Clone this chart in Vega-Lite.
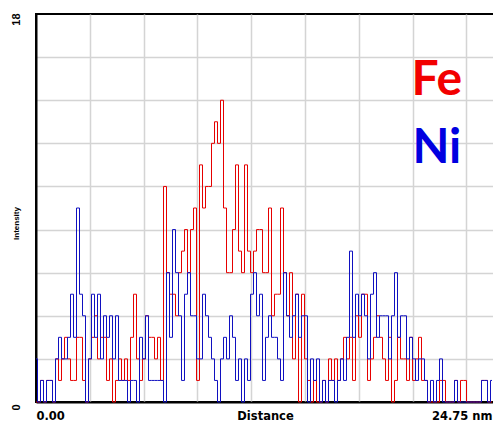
{
"$schema": "https://vega.github.io/schema/vega-lite/v6.json",
"width": 460, "height": 388,
"autosize": {"type": "none"},
"padding": {"left": 36, "top": 14, "right": 0, "bottom": 20},
"background": "white",
"config": {"view": {"stroke": "#000", "strokeWidth": 2}},
"layer": [
{
"data": {"values": [
{"i":0,"Fe":0,"Ni":2},{"i":1,"Fe":0,"Ni":0},{"i":2,"Fe":1,"Ni":1},{"i":3,"Fe":0,"Ni":0},{"i":4,"Fe":1,"Ni":1},{"i":5,"Fe":1,"Ni":1},{"i":6,"Fe":0,"Ni":0},{"i":7,"Fe":2,"Ni":2},{"i":8,"Fe":1,"Ni":3},{"i":9,"Fe":2,"Ni":2},
{"i":10,"Fe":3,"Ni":2},{"i":11,"Fe":2,"Ni":3},{"i":12,"Fe":1,"Ni":5},{"i":13,"Fe":1,"Ni":3},{"i":14,"Fe":3,"Ni":9},{"i":15,"Fe":3,"Ni":5},{"i":16,"Fe":1,"Ni":4},{"i":17,"Fe":0,"Ni":0},{"i":18,"Fe":2,"Ni":2},{"i":19,"Fe":3,"Ni":5},
{"i":20,"Fe":4,"Ni":3},{"i":21,"Fe":2,"Ni":5},{"i":22,"Fe":3,"Ni":2},{"i":23,"Fe":3,"Ni":4},{"i":24,"Fe":1,"Ni":3},{"i":25,"Fe":2,"Ni":4},{"i":26,"Fe":0,"Ni":2},{"i":27,"Fe":1,"Ni":4},{"i":28,"Fe":2,"Ni":1},{"i":29,"Fe":1,"Ni":1},
{"i":30,"Fe":2,"Ni":1},{"i":31,"Fe":1,"Ni":0},{"i":32,"Fe":3,"Ni":1},{"i":33,"Fe":5,"Ni":1},{"i":34,"Fe":2,"Ni":0},{"i":35,"Fe":1,"Ni":3},{"i":36,"Fe":2,"Ni":2},{"i":37,"Fe":4,"Ni":4},{"i":38,"Fe":3,"Ni":1},{"i":39,"Fe":3,"Ni":1},
{"i":40,"Fe":2,"Ni":1},{"i":41,"Fe":3,"Ni":1},{"i":42,"Fe":1,"Ni":1},{"i":43,"Fe":10,"Ni":0},{"i":44,"Fe":6,"Ni":6},{"i":45,"Fe":5,"Ni":3},{"i":46,"Fe":5,"Ni":8},{"i":47,"Fe":4,"Ni":6},{"i":48,"Fe":6,"Ni":4},{"i":49,"Fe":7,"Ni":1},
{"i":50,"Fe":8,"Ni":5},{"i":51,"Fe":6,"Ni":6},{"i":52,"Fe":8,"Ni":4},{"i":53,"Fe":9,"Ni":4},{"i":54,"Fe":1,"Ni":2},{"i":55,"Fe":11,"Ni":2},{"i":56,"Fe":9,"Ni":5},{"i":57,"Fe":10,"Ni":4},{"i":58,"Fe":10,"Ni":3},{"i":59,"Fe":12,"Ni":2},
{"i":60,"Fe":13,"Ni":1},{"i":61,"Fe":12,"Ni":0},{"i":62,"Fe":14,"Ni":2},{"i":63,"Fe":9,"Ni":3},{"i":64,"Fe":6,"Ni":2},{"i":65,"Fe":6,"Ni":4},{"i":66,"Fe":8,"Ni":3},{"i":67,"Fe":11,"Ni":1},{"i":68,"Fe":7,"Ni":2},{"i":69,"Fe":6,"Ni":0},
{"i":70,"Fe":11,"Ni":2},{"i":71,"Fe":7,"Ni":1},{"i":72,"Fe":6,"Ni":5},{"i":73,"Fe":7,"Ni":6},{"i":74,"Fe":8,"Ni":4},{"i":75,"Fe":8,"Ni":5},{"i":76,"Fe":6,"Ni":1},{"i":77,"Fe":6,"Ni":3},{"i":78,"Fe":9,"Ni":4},{"i":79,"Fe":4,"Ni":3},
{"i":80,"Fe":5,"Ni":3},{"i":81,"Fe":5,"Ni":2},{"i":82,"Fe":9,"Ni":1},{"i":83,"Fe":6,"Ni":6},{"i":84,"Fe":4,"Ni":4},{"i":85,"Fe":6,"Ni":3},{"i":86,"Fe":2,"Ni":4},{"i":87,"Fe":5,"Ni":5},{"i":88,"Fe":0,"Ni":3},{"i":89,"Fe":5,"Ni":4},
{"i":90,"Fe":2,"Ni":4},{"i":91,"Fe":1,"Ni":0},{"i":92,"Fe":0,"Ni":2},{"i":93,"Fe":1,"Ni":1},{"i":94,"Fe":0,"Ni":2},{"i":95,"Fe":0,"Ni":0},{"i":96,"Fe":1,"Ni":1},{"i":97,"Fe":0,"Ni":0},{"i":98,"Fe":2,"Ni":1},{"i":99,"Fe":1,"Ni":1},
{"i":100,"Fe":2,"Ni":0},{"i":101,"Fe":1,"Ni":1},{"i":102,"Fe":2,"Ni":2},{"i":103,"Fe":3,"Ni":1},{"i":104,"Fe":2,"Ni":3},{"i":105,"Fe":3,"Ni":7},{"i":106,"Fe":1,"Ni":3},{"i":107,"Fe":4,"Ni":5},{"i":108,"Fe":3,"Ni":4},{"i":109,"Fe":5,"Ni":5},
{"i":110,"Fe":5,"Ni":4},{"i":111,"Fe":1,"Ni":2},{"i":112,"Fe":2,"Ni":5},{"i":113,"Fe":3,"Ni":6},{"i":114,"Fe":4,"Ni":3},{"i":115,"Fe":3,"Ni":4},{"i":116,"Fe":2,"Ni":4},{"i":117,"Fe":1,"Ni":4},{"i":118,"Fe":3,"Ni":2},{"i":119,"Fe":0,"Ni":4},
{"i":120,"Fe":1,"Ni":6},{"i":121,"Fe":3,"Ni":3},{"i":122,"Fe":2,"Ni":4},{"i":123,"Fe":2,"Ni":4},{"i":124,"Fe":1,"Ni":2},{"i":125,"Fe":3,"Ni":3},{"i":126,"Fe":1,"Ni":2},{"i":127,"Fe":2,"Ni":1},{"i":128,"Fe":3,"Ni":2},{"i":129,"Fe":1,"Ni":2},
{"i":130,"Fe":1,"Ni":1},{"i":131,"Fe":0,"Ni":0},{"i":132,"Fe":0,"Ni":1},{"i":133,"Fe":0,"Ni":0},{"i":134,"Fe":0,"Ni":1},{"i":135,"Fe":1,"Ni":2},{"i":136,"Fe":1,"Ni":0},{"i":137,"Fe":0,"Ni":0},{"i":138,"Fe":0,"Ni":0},{"i":139,"Fe":0,"Ni":0},
{"i":140,"Fe":1,"Ni":1},{"i":141,"Fe":0,"Ni":0},{"i":142,"Fe":1,"Ni":0},{"i":143,"Fe":1,"Ni":0},{"i":144,"Fe":0,"Ni":0},{"i":145,"Fe":0,"Ni":0},{"i":146,"Fe":0,"Ni":0},{"i":147,"Fe":0,"Ni":0},{"i":148,"Fe":0,"Ni":0},{"i":149,"Fe":1,"Ni":1},
{"i":150,"Fe":1,"Ni":1},{"i":151,"Fe":0,"Ni":0},{"i":152,"Fe":0,"Ni":1}
]},
"transform": [{"fold": ["Fe", "Ni"], "as": ["element", "intensity"]}],
"mark": {"type": "line", "interpolate": "step", "strokeWidth": 1},
"encoding": {
"x": {"field": "i", "type": "quantitative",
"scale": {"domain": [0, 153.33], "nice": false, "zero": false},
"axis": {
"values": [0, 17.93, 35.87, 53.8, 71.73, 89.67, 107.6, 125.53, 143.47, 152],
"labelExpr": "datum.value == 0 ? '0.00' : (datum.value == 152 ? '24.75 nm' : '')",
"labelAlign": {"condition": {"test": "datum.value == 0", "value": "left"}, "value": "right"},
"labelFlush": false, "labelOverlap": false, "labelBound": false,
"labelBaseline": "top", "labelPadding": 8,
"labelFont": "DejaVu Sans", "labelFontWeight": "bold", "labelFontSize": 11.5, "labelColor": "#000",
"grid": true, "gridWidth": 1.5,
"gridColor": {"condition": {"test": "datum.value == 152 || datum.value == 0", "value": "transparent"}, "value": "#d4d4d4"},
"ticks": false, "tickSize": 0,
"domain": true, "domainColor": "#000", "domainWidth": 2,
"title": "Distance", "titleFont": "DejaVu Sans", "titleFontWeight": "bold", "titleFontSize": 11.5, "titleColor": "#000",
"titleX": 229, "titleY": 8, "titleAlign": "center", "titleBaseline": "top"
}},
"y": {"field": "intensity", "type": "quantitative",
"scale": {"domain": [0, 18], "nice": false},
"axis": {
"values": [0, 2, 4, 6, 8, 10, 12, 14, 16, 18],
"labelExpr": "datum.value == 0 || datum.value == 18 ? datum.label : ''",
"labelAngle": -90, "labelAlign": "center", "labelBaseline": "middle",
"labelPadding": 20, "labelOffset": 5,
"labelFlush": false, "labelOverlap": false, "labelBound": false,
"labelFont": "Liberation Sans", "labelFontWeight": "bold", "labelFontSize": 11, "labelColor": "#000",
"grid": true, "gridWidth": 1.5,
"gridColor": {"condition": {"test": "datum.value == 0 || datum.value == 18", "value": "transparent"}, "value": "#d4d4d4"},
"ticks": false, "tickSize": 0,
"domain": true, "domainColor": "#000", "domainWidth": 2,
"title": "Intensity", "titleFont": "Liberation Sans", "titleFontWeight": "bold", "titleFontSize": 8, "titleColor": "#000",
"titleAngle": -90, "titleX": -20, "titleY": 209, "titleAlign": "center", "titleBaseline": "middle"
}},
"color": {"field": "element", "type": "nominal",
"scale": {"domain": ["Fe", "Ni"], "range": ["#e60000", "#1010c0"]}, "legend": null}
}
},
{
"data": {"values": [
{"label": "Fe", "i": 133.6, "intensity": 14.24},
{"label": "Ni", "i": 133.6, "intensity": 11.09}
]},
"mark": {"type": "text", "font": "Lato", "fontWeight": "bold", "fontSize": 48, "align": "center", "baseline": "alphabetic"},
"encoding": {
"x": {"field": "i", "type": "quantitative"},
"y": {"field": "intensity", "type": "quantitative"},
"text": {"field": "label"},
"color": {"condition": {"test": "datum.label == 'Fe'", "value": "#f20000"}, "value": "#0000e0"}
}
}
]
}
